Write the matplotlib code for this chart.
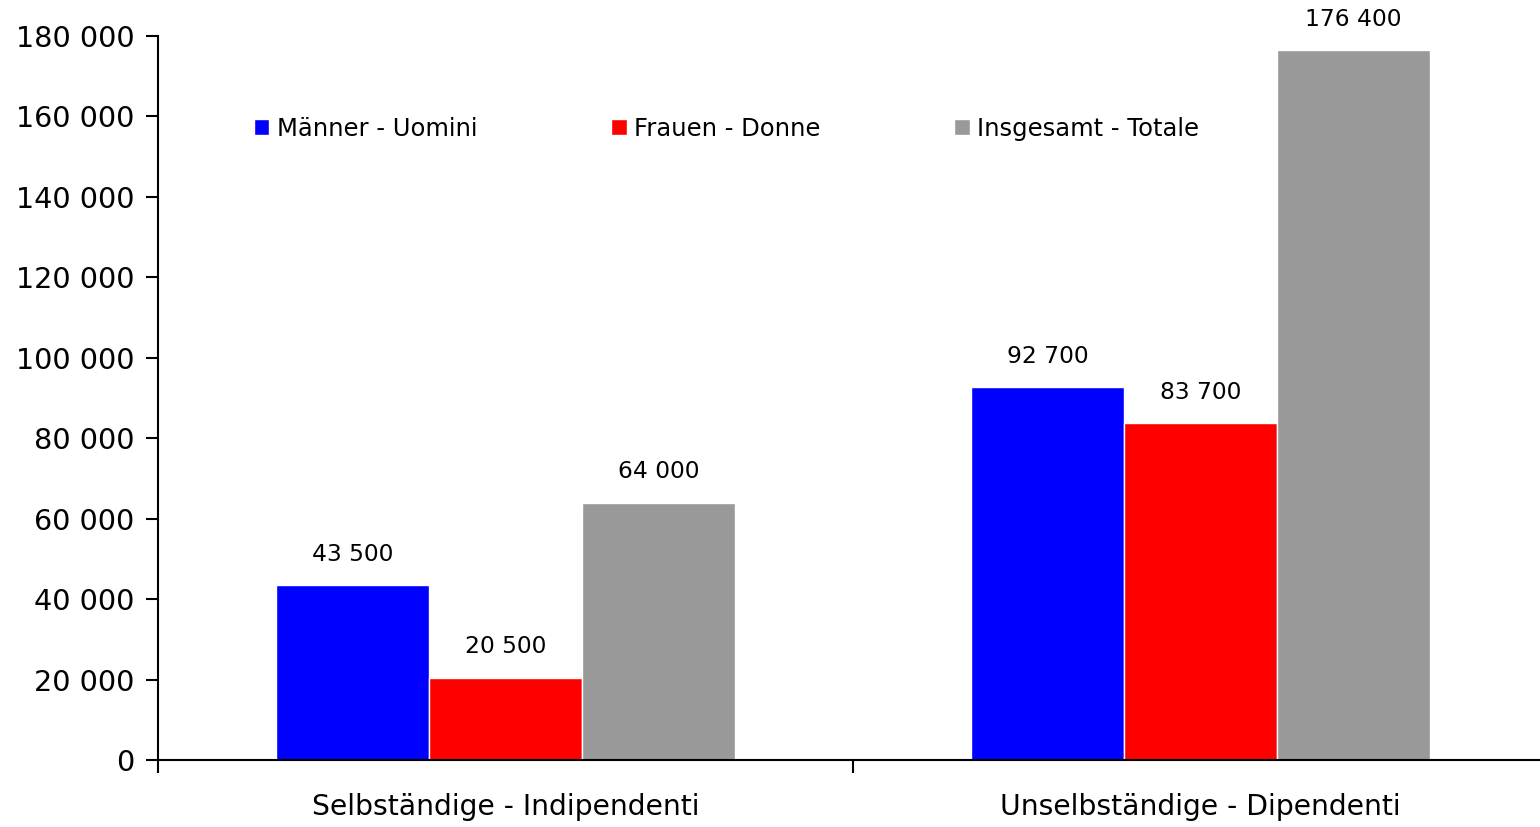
import matplotlib.pyplot as plt
import numpy as np

categories = ['Selbständige - Indipendenti', 'Unselbständige - Dipendenti']
series_names = ['Männer - Uomini', 'Frauen - Donne', 'Insgesamt - Totale']
maenner = [43500, 92700]
frauen = [20500, 83700]
insgesamt = [64000, 176400]
y_ticks = [0, 20000, 40000, 60000, 80000, 100000, 120000, 140000, 160000, 180000]

colors = ['#0000ff', '#ff0000', '#999999']

def fmt(v):
    return f'{int(v):,}'.replace(',', ' ')

plt.rcParams['font.family'] = ['DejaVu Sans']

fig = plt.figure(figsize=(15.4, 8.27), dpi=100)
ax = fig.add_axes([158 / 1540, 67 / 827, 1390 / 1540, 724 / 827])

x = np.arange(len(categories))
w = 0.22
for i, (vals, name) in enumerate(zip([maenner, frauen, insgesamt], series_names)):
    bars = ax.bar(x + (i - 1) * w, vals, w, color=colors[i], edgecolor='white',
                  linewidth=1, label=name)
    ax.bar_label(bars, labels=[fmt(v) for v in vals], padding=14, fontsize=16.8)

ax.set_xlim(-0.5, 1.5)
ax.set_ylim(0, 180000)
ax.set_yticks(y_ticks)
ax.set_yticklabels([fmt(v) for v in y_ticks], fontsize=20.6)
ax.tick_params(axis='y', direction='out', length=9, width=1.5, pad=8)

ax.set_xticks(x)
ax.set_xticklabels(categories, fontsize=20.3)
ax.tick_params(axis='x', which='major', length=0, pad=24)
ax.set_xticks([-0.5, 0.5, 1.5], minor=True)
ax.tick_params(axis='x', which='minor', direction='out', length=9, width=1.5)

for s in ['top', 'right']:
    ax.spines[s].set_visible(False)
ax.spines['left'].set_linewidth(1.5)
ax.spines['bottom'].set_linewidth(1.5)

ax.legend(loc='upper left', bbox_to_anchor=(0.053, 0.919), ncol=3, frameon=False,
          fontsize=17.5, handlelength=0.65, handleheight=0.65, handletextpad=0.3,
          columnspacing=5.5)

fig.savefig('out.png', dpi=100)
